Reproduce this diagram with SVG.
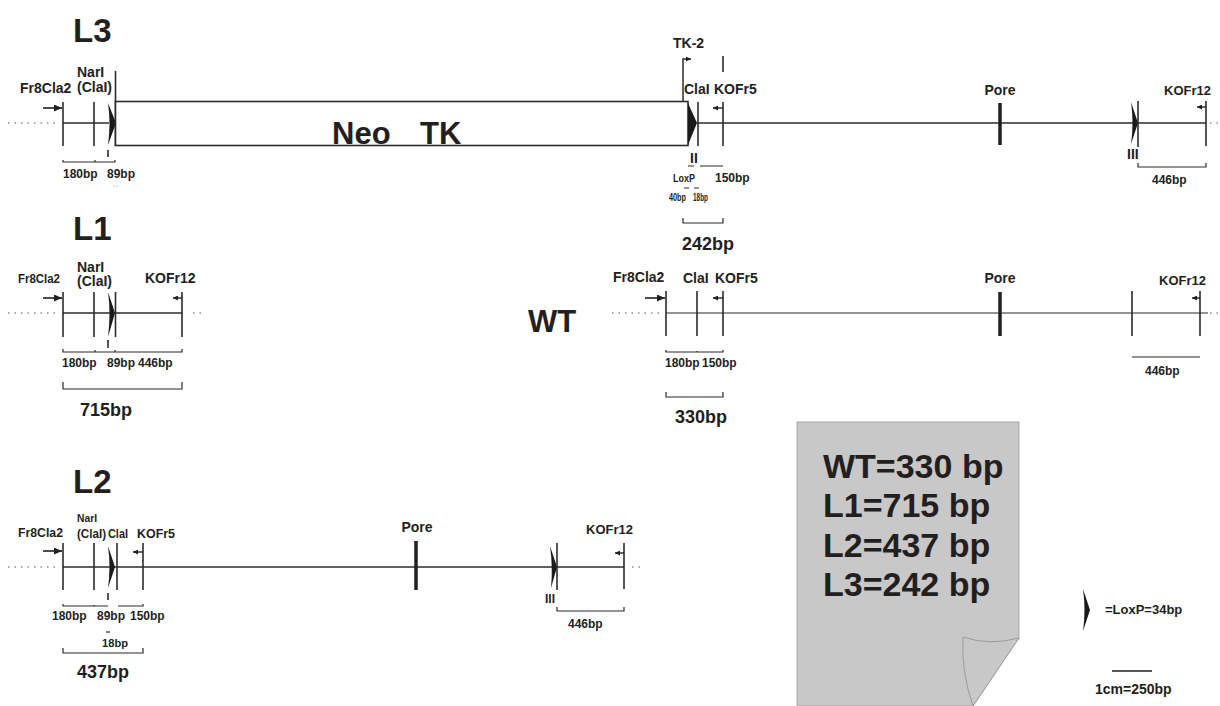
<svg xmlns="http://www.w3.org/2000/svg" width="1220" height="706" viewBox="0 0 1220 706">
<defs>
<style>
text{font-family:"Liberation Sans",Arial,sans-serif;font-weight:bold;fill:#231f20}
.s14{font-size:14px}.s13{font-size:13px}.s12{font-size:12px}.s11{font-size:11px}
.big{font-size:33px}.tot{font-size:18px}.sum{font-size:34px}
.ln{stroke:#2b2b2b;stroke-width:1.6;fill:none}
.thin{stroke:#2b2b2b;stroke-width:1;fill:none}
.vt{stroke:#2b2b2b;stroke-width:1.6}
.pore{stroke:#231f20;stroke-width:3.5}
.dot{stroke:#555;stroke-width:1.2;stroke-dasharray:1.5 5;fill:none}
.br{stroke:#2b2b2b;stroke-width:1.2;fill:none}
.lox{fill:#1a1a1a}
</style>
<marker id="arr" viewBox="0 0 8 7" refX="8" refY="3.5" markerWidth="8" markerHeight="7" markerUnits="userSpaceOnUse" orient="auto"><path d="M0,0 L8,3.5 L0,7 z" fill="#231f20"/></marker>
<marker id="sarr" viewBox="0 0 5 5" refX="5" refY="2.5" markerWidth="5" markerHeight="5" markerUnits="userSpaceOnUse" orient="auto"><path d="M0,0 L5,2.5 L0,5 z" fill="#231f20"/></marker>
</defs>
<rect width="1220" height="706" fill="#fff"/>

<!-- ================= L3 ================= -->
<g id="L3">
<text class="big" x="73" y="42">L3</text>
<path class="dot" d="M8,123 H58"/>
<path class="ln" d="M63,123 H109"/>
<path class="ln" d="M697,123 H1206"/>
<path class="dot" d="M1210,123 H1220"/>
<line class="vt" x1="63" y1="102" x2="63" y2="146"/>
<line class="vt" x1="94" y1="102" x2="94" y2="146"/>
<line class="vt" x1="115.5" y1="71" x2="115.5" y2="146"/>
<path class="lox" d="M108,103 L116,123 L108,145 Q111,123 108,103 Z"/>
<line x1="43" y1="108" x2="62" y2="108" stroke="#231f20" stroke-width="1.6" marker-end="url(#arr)"/>
<text class="s14" x="20" y="93">Fr8Cla2</text>
<text class="s14" x="77" y="77">NarI</text>
<text class="s14" x="77" y="92">(ClaI)</text>
<line class="vt" x1="108" y1="150" x2="108" y2="157"/>
<path class="br" d="M63,160 V162 H115 V160 M95,162 V160"/>
<text class="s12" x="63" y="178">180bp</text>
<text class="s12" x="107" y="178">89bp</text>
<circle cx="114" cy="186" r="0.6" fill="#888"/><circle cx="117" cy="186" r="0.6" fill="#888"/>
</g>

<g id="neo-tk">
<rect x="115.5" y="101.5" width="572.5" height="44" fill="#fff" stroke="#2b2b2b" stroke-width="1.6"/>
<text x="332" y="144" style="font-size:31px">Neo</text>
<text x="420" y="144" style="font-size:31px">TK</text>
</g>

<g id="L3-right">
<path class="lox" d="M688,103 L697,123 L688,145 Z"/>
<line class="vt" x1="698" y1="102" x2="698" y2="146"/>
<path d="M683,101 V59 H691" stroke="#231f20" stroke-width="1.4" fill="none" marker-end="url(#sarr)"/>
<text class="s14" x="673" y="48">TK-2</text>
<line class="vt" x1="723" y1="56" x2="723" y2="72"/>
<text class="s14" x="684" y="94">ClaI</text>
<text class="s14" x="714" y="94">KOFr5</text>
<line class="vt" x1="723" y1="102" x2="723" y2="146"/>
<line x1="723" y1="108" x2="713" y2="108" stroke="#231f20" stroke-width="1.4" marker-end="url(#sarr)"/>
<text class="s14" x="690" y="163">II</text>
<path class="br" d="M688,166 H694 M700,166 H723"/>
<text class="s11" x="673" y="182" textLength="22" lengthAdjust="spacingAndGlyphs">LoxP</text>
<text class="s12" x="715" y="182">150bp</text>
<path class="br" d="M684,188 H689 M694,188 H699"/>
<text class="s11" x="669" y="201" textLength="17" lengthAdjust="spacingAndGlyphs">40bp</text>
<text class="s11" x="693" y="201" textLength="15" lengthAdjust="spacingAndGlyphs">18bp</text>
<path class="br" d="M683,218 V223 H723 V218"/>
<text class="tot" x="682" y="250">242bp</text>
<line class="pore" x1="1000" y1="103" x2="1000" y2="145"/>
<text class="s14" x="1000" y="95" text-anchor="middle">Pore</text>
<path class="lox" d="M1131,102 L1138,123 L1131,144 Q1134,123 1131,102 Z"/>
<line class="vt" x1="1138" y1="101" x2="1138" y2="147"/>
<text class="s14" x="1127" y="159">III</text>
<line class="vt" x1="1206" y1="101" x2="1206" y2="146"/>
<line x1="1206" y1="107" x2="1197" y2="107" stroke="#231f20" stroke-width="1.4" marker-end="url(#sarr)"/>
<text class="s13" x="1164" y="95">KOFr12</text>
<path class="br" d="M1138,163 V167 H1206 V163"/>
<text class="s12" x="1152" y="184">446bp</text>
</g>

<!-- ================= L1 ================= -->
<g id="L1">
<text class="big" x="73" y="240">L1</text>
<path class="dot" d="M8,313 H58"/>
<path class="ln" d="M63,313 H182"/>
<path class="dot" d="M193,313 H205"/>
<line class="vt" x1="63" y1="292" x2="63" y2="337"/>
<line class="vt" x1="94" y1="292" x2="94" y2="337"/>
<path class="lox" d="M108,292 L115,313 L108,337 Q111,313 108,292 Z"/>
<line class="vt" x1="115.5" y1="292" x2="115.5" y2="337"/>
<line class="vt" x1="182" y1="292" x2="182" y2="337"/>
<line x1="43" y1="298" x2="62" y2="298" stroke="#231f20" stroke-width="1.6" marker-end="url(#arr)"/>
<line x1="182" y1="298" x2="173" y2="298" stroke="#231f20" stroke-width="1.4" marker-end="url(#sarr)"/>
<text class="s12" x="18" y="283" textLength="42" lengthAdjust="spacingAndGlyphs">Fr8Cla2</text>
<text class="s14" x="77" y="272">NarI</text>
<text class="s14" x="77" y="286">(ClaI)</text>
<text class="s14" x="145" y="283">KOFr12</text>
<line class="vt" x1="108" y1="340" x2="108" y2="348"/>
<path class="br" d="M63,349 V352 H182 V349 M95,352 V350 M115,352 V350"/>
<text class="s12" x="62" y="367">180bp</text>
<text class="s12" x="107" y="367">89bp</text>
<text class="s12" x="138" y="367">446bp</text>
<path class="br" d="M63,382 V389 H182 V382"/>
<text class="tot" x="80" y="416">715bp</text>
</g>

<!-- ================= WT ================= -->
<g id="WT">
<text x="528" y="332" style="font-size:31px">WT</text>
<path class="dot" d="M612,313 H660"/>
<path class="thin" d="M666,313 H1208"/>
<path class="dot" d="M1210,313 H1220"/>
<line class="vt" x1="666" y1="291" x2="666" y2="336"/>
<line class="vt" x1="697" y1="291" x2="697" y2="336"/>
<line class="vt" x1="723" y1="291" x2="723" y2="336"/>
<line x1="645" y1="298" x2="665" y2="298" stroke="#231f20" stroke-width="1.6" marker-end="url(#arr)"/>
<line x1="723" y1="298" x2="713" y2="298" stroke="#231f20" stroke-width="1.4" marker-end="url(#sarr)"/>
<text class="s14" x="613" y="282">Fr8Cla2</text>
<text class="s14" x="683" y="283">ClaI</text>
<text class="s14" x="715" y="283">KOFr5</text>
<path class="br" d="M666,350 V352 H723 V350 M697,352 V351"/>
<text class="s12" x="665" y="367">180bp</text>
<text class="s12" x="702" y="367">150bp</text>
<path class="br" d="M666,392 V397 H723 V392"/>
<text class="tot" x="675" y="423">330bp</text>
<line class="pore" x1="1000" y1="292" x2="1000" y2="336"/>
<text class="s14" x="1000" y="283" text-anchor="middle">Pore</text>
<line class="vt" x1="1132" y1="291" x2="1132" y2="336"/>
<line class="vt" x1="1200" y1="291" x2="1200" y2="336"/>
<line x1="1200" y1="298" x2="1192" y2="298" stroke="#231f20" stroke-width="1.4" marker-end="url(#sarr)"/>
<text class="s13" x="1159" y="285">KOFr12</text>
<path class="br" d="M1132,357 H1200"/>
<text class="s12" x="1145" y="375">446bp</text>
</g>

<!-- ================= L2 ================= -->
<g id="L2">
<text class="big" x="73" y="493">L2</text>
<path class="dot" d="M8,567 H58"/>
<path class="ln" d="M63,567 H624"/>
<path class="dot" d="M632,567 H645"/>
<line class="vt" x1="63" y1="543" x2="63" y2="590"/>
<line class="vt" x1="94" y1="543" x2="94" y2="590"/>
<path class="lox" d="M108,546 L115,567 L108,588 Q111,567 108,546 Z"/>
<line class="vt" x1="117" y1="543" x2="117" y2="590"/>
<line class="vt" x1="143" y1="543" x2="143" y2="590"/>
<line x1="43" y1="551" x2="62" y2="551" stroke="#231f20" stroke-width="1.6" marker-end="url(#arr)"/>
<line x1="143" y1="552" x2="133" y2="552" stroke="#231f20" stroke-width="1.4" marker-end="url(#sarr)"/>
<text class="s13" x="18" y="537" textLength="45" lengthAdjust="spacingAndGlyphs">Fr8Cla2</text>
<text class="s11" x="77" y="522" textLength="20" lengthAdjust="spacingAndGlyphs">NarI</text>
<text class="s13" x="77" y="538" textLength="29" lengthAdjust="spacingAndGlyphs">(ClaI)</text>
<text class="s13" x="108" y="538" textLength="20" lengthAdjust="spacingAndGlyphs">ClaI</text>
<text class="s13" x="137" y="538" textLength="38" lengthAdjust="spacingAndGlyphs">KOFr5</text>
<line class="vt" x1="108" y1="593" x2="108" y2="600"/>
<path class="br" d="M63,604 V606 H108 M94,606 V605 M118,606 H143 V604"/>
<text class="s12" x="52" y="620">180bp</text>
<text class="s12" x="97" y="620">89bp</text>
<text class="s12" x="130" y="620">150bp</text>
<path class="br" d="M106,632 H110"/>
<text class="s11" x="102" y="647" textLength="26" lengthAdjust="spacingAndGlyphs">18bp</text>
<path class="br" d="M63,648 V653 H143 V648"/>
<text class="tot" x="77" y="678">437bp</text>
<line class="pore" x1="416" y1="541" x2="416" y2="590"/>
<text class="s14" x="417" y="532" text-anchor="middle">Pore</text>
<path class="lox" d="M550,546 L557,567 L551,588 Q553,567 550,546 Z"/>
<line class="vt" x1="557" y1="543" x2="557" y2="590"/>
<text class="s12" x="545" y="603">III</text>
<line class="vt" x1="624" y1="543" x2="624" y2="589"/>
<line x1="624" y1="553" x2="615" y2="553" stroke="#231f20" stroke-width="1.4" marker-end="url(#sarr)"/>
<text class="s13" x="586" y="534">KOFr12</text>
<path class="br" d="M557,607 V611 H624 V607"/>
<text class="s12" x="568" y="628">446bp</text>
</g>

<!-- ================= Summary page ================= -->
<g id="summary">
<path d="M797,422 H1019 V638 L973,706 H797 Z" fill="#c8c8c8" stroke="#9a9a9a" stroke-width="0.8"/>
<path d="M963,637 Q990,646 1019,638 L973,706 Q961,672 963,637 Z" fill="#c8c8c8" stroke="#8a8a8a" stroke-width="0.7"/>
<text class="sum" x="823" y="478">WT=330 bp</text>
<text class="sum" x="823" y="517">L1=715 bp</text>
<text class="sum" x="823" y="557">L2=437 bp</text>
<text class="sum" x="823" y="596">L3=242 bp</text>
</g>

<!-- ================= Legend ================= -->
<g id="legend">
<path class="lox" d="M1083,589 L1090,610 L1083,631 Q1086,610 1083,589 Z"/>
<text class="s13" x="1105" y="614">=LoxP=34bp</text>
<line x1="1112" y1="671" x2="1152" y2="671" stroke="#231f20" stroke-width="1.4"/>
<text class="s14" x="1095" y="694">1cm=250bp</text>
</g>
</svg>
